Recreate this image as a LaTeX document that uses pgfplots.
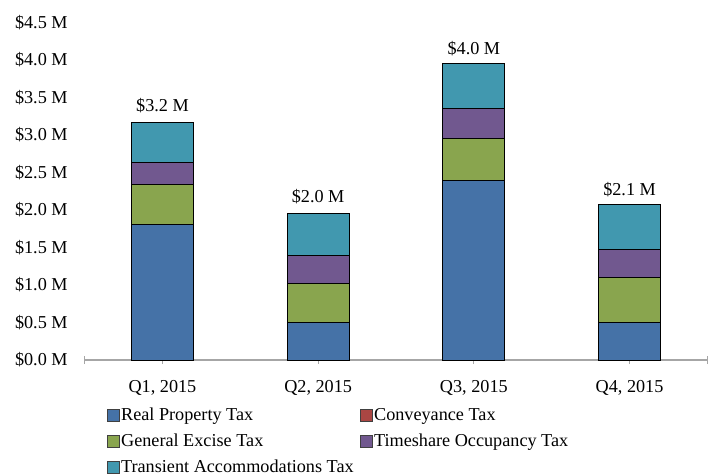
\documentclass[border=0pt]{standalone}
\usepackage{pgfplots}
\pgfplotsset{compat=1.18}
\usepackage{fontspec}
\setmainfont{Liberation Serif}
\definecolor{rpt}{HTML}{4572A7}
\definecolor{cvt}{HTML}{AA4643}
\definecolor{get}{HTML}{89A54E}
\definecolor{tot}{HTML}{71588F}
\definecolor{tat}{HTML}{4198AF}
\newcommand{\fs}{\fontsize{9.1bp}{11bp}\selectfont}
\begin{document}
\begin{tikzpicture}
\useasboundingbox (-42.3bp,-58bp) rectangle (316.7bp,180bp);
\begin{axis}[
  at={(0,0)}, anchor=south west,
  scale only axis,
  width=311.4bp, height=168.75bp,
  ybar stacked,
  bar width=0.4,
  xmin=-0.5, xmax=3.5,
  ymin=0, ymax=4.5,
  xtick={0,1,2,3},
  xticklabels={{Q1, 2015},{Q2, 2015},{Q3, 2015},{Q4, 2015}},
  extra x ticks={-0.5,3.5},
  extra x tick labels={},
  ytick={0,0.5,1,1.5,2,2.5,3,3.5,4,4.5},
  yticklabels={\$0.0 M,\$0.5 M,\$1.0 M,\$1.5 M,\$2.0 M,\$2.5 M,\$3.0 M,\$3.5 M,\$4.0 M,\$4.5 M},
  axis x line*=bottom,
  axis y line*=left,
  separate axis lines,
  x axis line style={draw=black!35, line width=0.6bp, -},
  y axis line style={draw=none},
  ytick style={draw=none},
  xtick style={draw=black!35, line width=0.6bp},
  extra x tick style={xtick style={draw=black!35, line width=0.6bp}, tick align=center},
  tick align=center,
  major tick length=4bp,
  yticklabel style={font=\fs, anchor=east, inner sep=0pt, xshift=-6.3bp},
  xticklabel style={font=\fs, anchor=north, inner sep=0pt, yshift=-8bp},
  legend columns=2,
  legend cell align=left,
  legend style={
    at={(axis description cs:0.0355,-0.1363)}, anchor=north west,
    draw=none, fill=none, inner sep=0pt, outer sep=0pt,
    font=\fs,
    nodes={inner sep=0.5bp, text height=6.5bp, text depth=2bp},
    /tikz/every even column/.append style={column sep=2.5bp},
    row sep=3.5bp,
  },
  every axis plot post/.append style={
    legend image code/.code={\draw[#1,draw=black!75,line width=0.4bp] (0bp,-3.15bp) rectangle (6.3bp,3.15bp);}
  },
]
\addplot[fill=rpt, draw=black, line width=0.5bp] coordinates {(0,1.81) (1,0.50) (2,2.40) (3,0.50)};
\addlegendentry{Real Property Tax}
\addplot[fill=cvt, draw=black, line width=0.5bp] coordinates {(0,0) (1,0) (2,0) (3,0)};
\addlegendentry{Conveyance Tax}
\addplot[fill=get, draw=black, line width=0.5bp] coordinates {(0,0.53) (1,0.52) (2,0.55) (3,0.60)};
\addlegendentry{General Excise Tax}
\addplot[fill=tot, draw=black, line width=0.5bp] coordinates {(0,0.29) (1,0.37) (2,0.40) (3,0.37)};
\addlegendentry{Timeshare Occupancy Tax}
\addplot[fill=tat, draw=black, line width=0.5bp,
  point meta=explicit symbolic,
  nodes near coords,
  every node near coord/.append style={font=\fs, anchor=base, inner sep=0pt, yshift=15.75bp, text=black},
] coordinates {(0,0.54) [\$3.2 M] (1,0.57) [\$2.0 M] (2,0.61) [\$4.0 M] (3,0.60) [\$2.1 M]};
\addlegendentry{Transient Accommodations Tax}
\end{axis}
\end{tikzpicture}
\end{document}
